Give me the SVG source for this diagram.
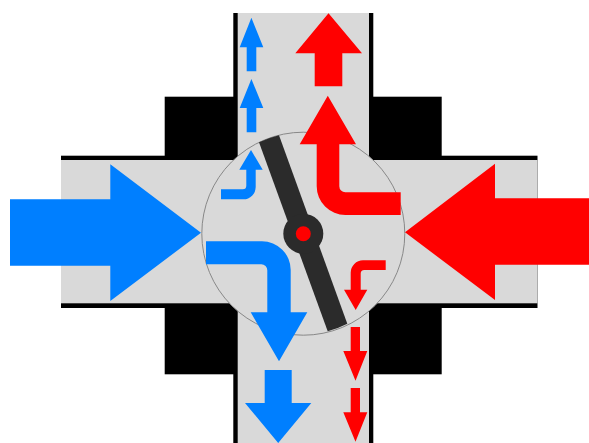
<svg xmlns="http://www.w3.org/2000/svg" width="589" height="443" viewBox="0 0 589 443">
<style>
.blk{fill:#000}
.gry{fill:#d9d9d9}
.blue{fill:#007fff}
.red{fill:#f00}
</style>
<rect width="589" height="443" fill="#fff"/>
<g id="housing">
<rect class="blk" x="164.7" y="96.7" width="277" height="277.6"/>
<rect class="blk" x="233.3" y="13" width="140" height="430"/>
<rect class="blk" x="61" y="155.7" width="476.5" height="152.3"/>
<rect class="gry" x="61" y="160" width="476.5" height="143.3"/>
<rect class="gry" x="237.7" y="13" width="131.3" height="430"/>
</g>
<g id="rotor">
<circle class="gry" cx="303.3" cy="233.7" r="101.5" stroke="#888" stroke-width="1"/>
</g>
<g id="flows-blue">
<path id="blue-in" class="blue" d="M10 199.3H110.3V164.3L201 232.7L110.3 301V265.7H10Z"/>
<path id="blue-up-1" class="blue" d="M251.4 17.7L263.3 47.3H256.3V71.3H246.7V47.3H239.7Z"/>
<path id="blue-up-2" class="blue" d="M251.4 79L263.3 108H256.3V132.3H246.7V108H239.7Z"/>
<path id="blue-bent-small" class="blue" d="M251 150L262.7 169.7H255.7V187A12.3 12.3 0 0 1 243.4 199.3H221V189.3H242.7A3.6 3.6 0 0 0 246.3 185.7V169.7H239.3Z"/>
<path id="blue-bent-large" class="blue" d="M206 241.3H262A28.7 28.7 0 0 1 290.7 270V312.3H307.3L279 361.3L250.7 312.3H267.3V270.3A6 6 0 0 0 261.3 264.3H206Z"/>
<path id="blue-out" class="blue" d="M264.7 370H291.7V403H311.3L278.2 443L245 403H264.7Z"/>
</g>
<g id="flows-red">
<path id="red-in" class="red" d="M589 198.3H495V163.7L405 232.3L495 300V264.7H589Z"/>
<path id="red-out" class="red" d="M328.5 13.3L362 53.3H342.3V86.3H314.7V53.3H295.3Z"/>
<path id="red-bent-large" class="red" d="M327.8 95.7L356 144.3H339.3V186.3A6 6 0 0 0 345.3 192.3H400.7V215H345.4A28.7 28.7 0 0 1 316.7 186.3V144.3H299.7Z"/>
<path id="red-bent-small" class="red" d="M385.7 260.3V270H364.3A3.6 3.6 0 0 0 360.7 273.6V289.7H367.3L355.7 310L344 289.7H350.7V272.6A12.3 12.3 0 0 1 363 260.3Z"/>
<path id="red-down-1" class="red" d="M350.7 327H360V351H367.3L355.5 380.7L343.3 351H350.7Z"/>
<path id="red-down-2" class="red" d="M350.7 388H360V412.3H367.3L355.5 441.7L343.3 412.3H350.7Z"/>
</g>
<g id="damper">
<path d="M259 142.3A101.5 101.5 0 0 1 279 135.2L347.3 323.7A101.5 101.5 0 0 1 327.7 331.3Z" fill="#2b2b2b"/>
<circle cx="303.3" cy="233.7" r="20" fill="#2b2b2b"/>
<circle class="red" cx="303.3" cy="233.7" r="7.5"/>
</g>
</svg>
